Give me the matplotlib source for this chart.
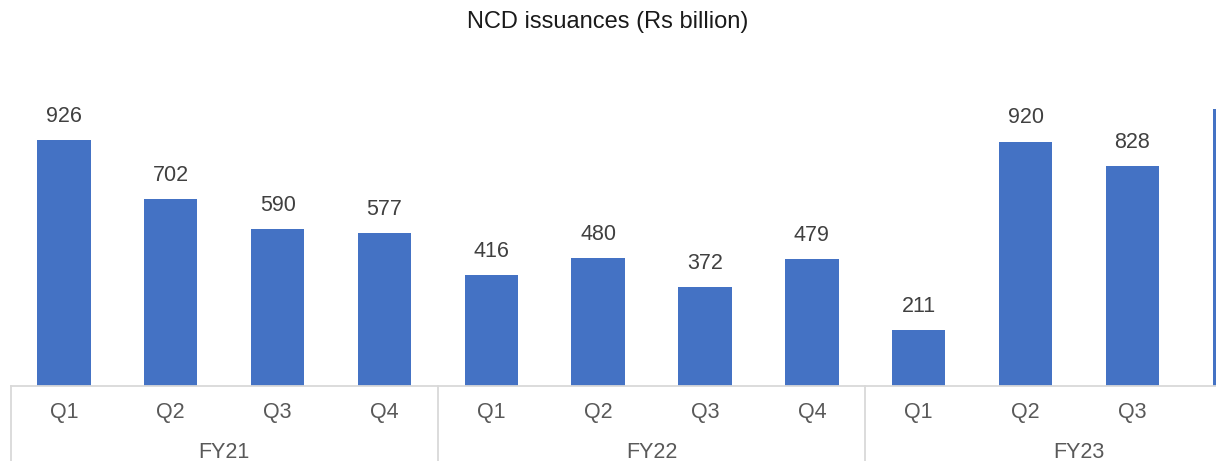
import matplotlib.pyplot as plt
from matplotlib.lines import Line2D

plt.rcParams['font.family'] = ['Liberation Sans', 'DejaVu Sans']

years = ["FY21", "FY22", "FY23"]
quarters = ["Q1", "Q2", "Q3", "Q4"]
values = [926, 702, 590, 577, 416, 480, 372, 479, 211, 920, 828, 1042]
# the source picture is cropped: the last bar shows only its left edge
visible = [True] * 11 + [False]

BAR = "#4472C4"
LABEL = "#404040"
AXIS_TXT = "#595959"
GRID = "#D9D9D9"

W, H = 1216, 461
fig = plt.figure(figsize=(W / 100, H / 100), dpi=100)
fig.patch.set_facecolor("white")

# axes runs past the right edge, like the cropped original
left_px, step_px, base_px = 10.5, 106.85, 386
right_px = left_px + step_px * len(values)
ax = fig.add_axes([left_px / W, (H - base_px) / H, (right_px - left_px) / W, (base_px - 20) / H])
ymax = (base_px - 20) / 0.2657
ax.set_ylim(0, ymax)
ax.set_xlim(-0.5, len(values) - 0.5)

x = list(range(len(values)))
ax.bar(x, values, width=0.5, color=BAR, zorder=2)
for xi, v, show in zip(x, values, visible):
    if show:
        ax.annotate(f"{v}", (xi, v), xytext=(0, 17), textcoords="offset points",
                    ha="center", va="center", fontsize=15.5, color=LABEL)

for sp in ax.spines.values():
    sp.set_visible(False)
ax.set_xticks([])
ax.set_yticks([])

trans = ax.get_xaxis_transform()
# baseline
ax.add_line(Line2D([-0.5, len(values) - 0.5], [0, 0], transform=trans, color=GRID, lw=1.3,
                   clip_on=False, zorder=3))
# group separators
for g in range(len(years) + 1):
    xb = g * 4 - 0.5
    ax.add_line(Line2D([xb, xb], [0, -0.3], transform=trans, color=GRID, lw=1.3, clip_on=False))

q_y = -(412 - base_px) / (base_px - 20)
y_y = -(452 - base_px) / (base_px - 20)
for i in range(len(values)):
    if visible[i]:
        ax.text(i, q_y, quarters[i % 4], transform=trans, ha="center", va="center",
                fontsize=15.5, color=AXIS_TXT)
for g, yr in enumerate(years):
    ax.text(g * 4 + 1.5, y_y, yr, transform=trans, ha="center", va="center",
            fontsize=15.5, color=AXIS_TXT)

fig.text(0.5, 1 - 22 / H, "NCD issuances (Rs billion)", ha="center", va="center",
         fontsize=17, color="#1A1A1A")

fig.savefig("out.png", dpi=100)
